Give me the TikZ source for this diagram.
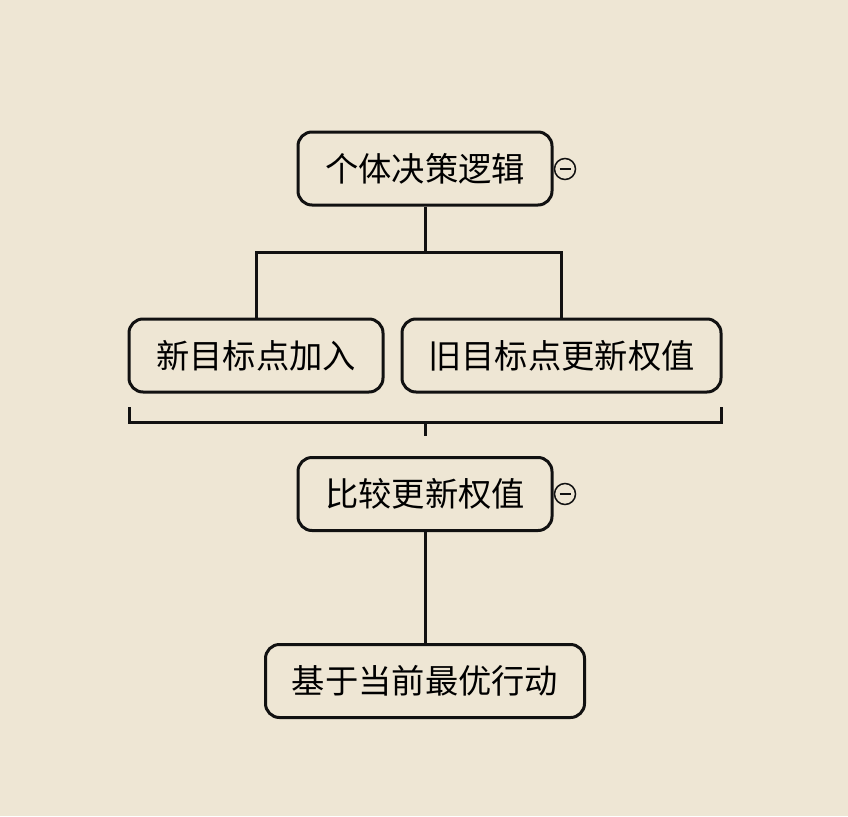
\documentclass[tikz,border=0pt]{standalone}
\usepackage{fontspec}
\newfontfamily\cjk{Noto Sans CJK SC}
\definecolor{paper}{HTML}{EEE6D4}
\definecolor{ink}{HTML}{111111}
\begin{document}
\begin{tikzpicture}[x=1pt,y=-1pt,
  box/.style={draw=ink, fill=paper, line width=3pt, rounded corners=14pt,
    minimum height=73pt, inner sep=0pt, font=\cjk\fontsize{33.3}{36}\selectfont},
  link/.style={draw=ink, line width=3pt},
  fold/.style={draw=ink, fill=paper, circle, line width=1.5pt, minimum size=21pt, inner sep=0pt}]
  \fill[paper] (0,0) rectangle (848,816);
  \useasboundingbox (0,0) rectangle (848,816);

  % boxes
  \node[box, minimum width=254pt] (root) at (425,168.5) {个体决策逻辑};
  \node[box, minimum width=254pt] (add) at (256,355.5) {新目标点加入};
  \node[box, minimum width=319pt] (upd) at (561.5,355.5) {旧目标点更新权值};
  \node[box, minimum width=254pt] (cmp) at (425,494) {比较更新权值};
  \node[box, minimum width=319pt] (act) at (425,681) {基于当前最优行动};

  % collapse markers
  \node[fold] (f1) at (565,169) {};
  \draw[ink, line width=1.5pt] ([xshift=-5.5pt]f1.center) -- ([xshift=5.5pt]f1.center);
  \node[fold] (f2) at (565,494) {};
  \draw[ink, line width=1.5pt] ([xshift=-5.5pt]f2.center) -- ([xshift=5.5pt]f2.center);

  % split into the two branches
  \coordinate (j) at (425,252);
  \draw[link] (root.south) -- (j);
  \draw[link] (add.north) |- (j) -| (upd.north);

  % bracket joining the branches
  \coordinate (bl) at (129,407);
  \coordinate (br) at (721,407);
  \coordinate (bm) at (425,422);
  \coordinate (bt) at (425,436);
  \draw[link] (bl) |- (bm) -| (br);
  \draw[link] (bm) -- (bt);

  % to the final action
  \draw[link] (cmp.south) -- (act.north);
\end{tikzpicture}
\end{document}
